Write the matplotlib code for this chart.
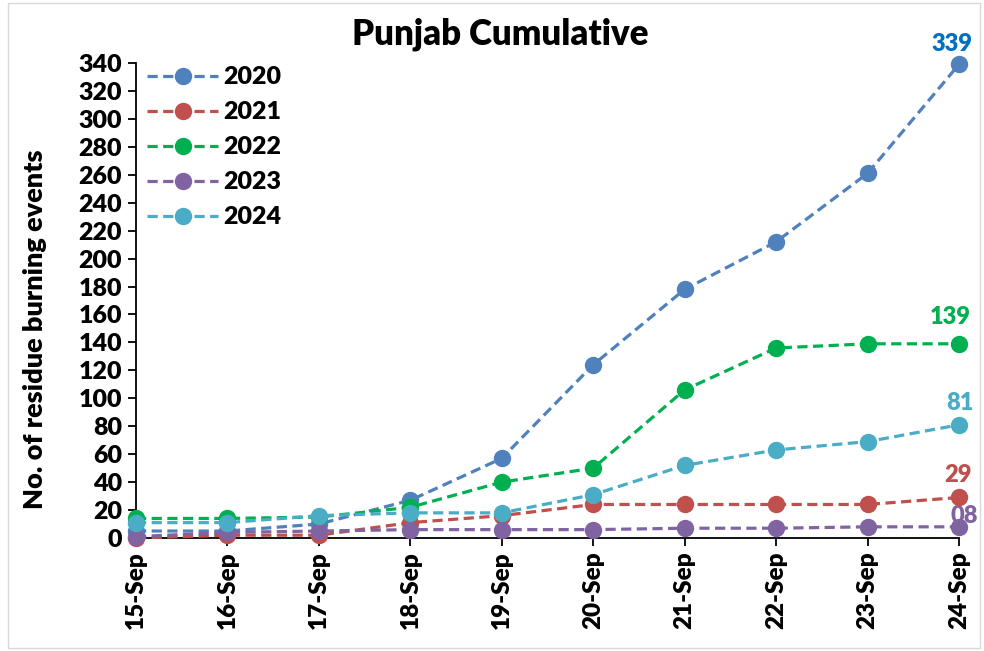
import numpy as np
from matplotlib import pyplot as plt
from matplotlib.patches import Rectangle

plt.rcParams['font.family'] = ['Lato', 'DejaVu Sans']
plt.rcParams['font.weight'] = 'heavy'

# даты
days = ["15-Sep", "16-Sep", "17-Sep", "18-Sep", "19-Sep",
        "20-Sep", "21-Sep", "22-Sep", "23-Sep", "24-Sep"]
# накопленные события сжигания по годам
y2020 = [5, 5, 10, 27, 57, 124, 178, 212, 261, 339]
y2021 = [0, 2, 2, 11, 16, 24, 24, 24, 24, 29]
y2022 = [14, 14, 15, 22, 40, 50, 106, 136, 139, 139]
y2023 = [1, 4, 5, 6, 6, 6, 7, 7, 8, 8]
y2024 = [11, 11, 16, 18, 18, 31, 52, 63, 69, 81]

years = ["2020", "2021", "2022", "2023", "2024"]
series = [y2020, y2021, y2022, y2023, y2024]
colors = ["#4F81BD", "#C0504D", "#00B050", "#8064A2", "#4BACC6"]
# подписи последних значений
endLabels = {"2020": ("339", "#0070C0"), "2021": ("29", "#C0504D"),
             "2022": ("139", "#00B050"), "2023": ("08", "#8064A2"),
             "2024": ("81", "#4BACC6")}

fig = plt.figure(figsize=(9.84, 6.51), dpi=100)
ax = fig.add_axes([136 / 984, 1 - 538 / 651, (959 - 136) / 984, (538 - 63) / 651])
x = np.arange(len(days))
for yr, s, c in zip(years, series, colors):
    ax.plot(x, s, linestyle=(0, (3.2, 1.7)), color=c, linewidth=2.3,
            marker='o', markersize=11.5, label=yr, clip_on=False, zorder=3)

offsets = {"2020": (-5, 15), "2021": (-0.7, 16), "2022": (-6, 19),
           "2023": (4, 8), "2024": (0.7, 16)}
for yr, s in zip(years, series):
    txt, c = endLabels[yr]
    dx, dy = offsets[yr]
    ax.annotate(txt, (x[-1], s[-1]), xytext=(dx, dy), textcoords='offset points',
                ha='center', va='center', color=c, fontsize=17, fontweight='heavy',
                annotation_clip=False, zorder=2)

ax.set_xlim(0, 9)
ax.set_ylim(0, 340)
ax.set_yticks(range(0, 341, 20))
ax.set_xticks(x)
ax.set_xticklabels(days, rotation=90)
ax.tick_params(axis='y', labelsize=18, width=1.3, length=6, direction='out', pad=4)
ax.tick_params(axis='x', labelsize=17.5, width=1.3, length=6, direction='out')
ax.spines['top'].set_visible(False)
ax.spines['right'].set_visible(False)
ax.spines['left'].set_linewidth(1.3)
ax.spines['bottom'].set_linewidth(1.3)
ax.set_ylabel("No. of residue burning events", fontsize=19.5, fontweight='heavy')
ax.yaxis.set_label_coords(-0.108, 0.44)
fig.text(500 / 984, 1 - 34 / 651, "Punjab Cumulative", ha='center', va='center',
         fontsize=25, fontweight='heavy')
ax.legend(loc='upper left', bbox_to_anchor=(-0.008, 1.03), frameon=False,
          fontsize=18, handlelength=2.85, handletextpad=0.2, labelspacing=0.52,
          borderaxespad=0.3)

fig.patches.append(Rectangle((8 / 984, 3 / 651), 972 / 984, 645 / 651,
                             transform=fig.transFigure, fill=False,
                             edgecolor='#D9D9D9', linewidth=1))
plt.savefig("out.png", dpi=100)
